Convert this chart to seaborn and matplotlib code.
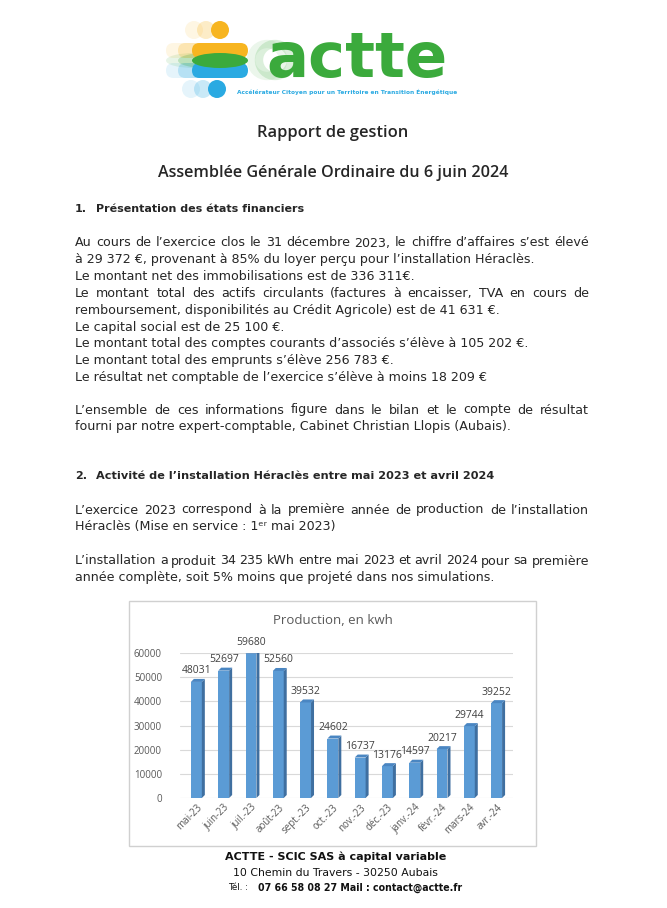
"""
Rapport de gestion ACTTE - page with the Héraclès production chart
"""
import matplotlib
matplotlib.use("Agg")
import matplotlib.pyplot as plt
from matplotlib.patches import Rectangle, Polygon, Ellipse, Circle, FancyBboxPatch
import seaborn as sns

# DATA
months = ["mai-23", "juin-23", "juil.-23", "août-23", "sept.-23", "oct.-23",
          "nov.-23", "déc.-23", "janv.-24", "févr.-24", "mars-24", "avr.-24"]
production = [48031, 52697, 59680, 52560, 39532, 24602,
              16737, 13176, 14597, 20217, 29744, 39252]
y_ticks = [0, 10000, 20000, 30000, 40000, 50000, 60000]

chart_title = "Production, en kwh"
page_title = "Rapport de gestion"
page_subtitle = "Assemblée Générale Ordinaire du 6 juin 2024"
heading1 = ("1.", "Présentation des états financiers")
heading2 = ("2.", "Activité de l’installation Héraclès entre mai 2023 et avril 2024")

# (text, justified)
para1 = [
    ("Au cours de l’exercice clos le 31 décembre 2023, le chiffre d’affaires s’est élevé", True),
    ("à 29 372 €, provenant à 85% du loyer perçu pour l’installation Héraclès.", False),
    ("Le montant net des immobilisations est de 336 311€.", False),
    ("Le montant total des actifs circulants (factures à encaisser, TVA en cours de", True),
    ("remboursement, disponibilités au Crédit Agricole) est de 41 631 €.", False),
    ("Le capital social est de 25 100 €.", False),
    ("Le montant total des comptes courants d’associés s’élève à 105 202 €.", False),
    ("Le montant total des emprunts s’élève 256 783 €.", False),
    ("Le résultat net comptable de l’exercice s’élève à moins 18 209 €", False),
]
para2 = [
    ("L’ensemble de ces informations figure dans le bilan et le compte de résultat", True),
    ("fourni par notre expert-comptable, Cabinet Christian Llopis (Aubais).", False),
]
para3 = [
    ("L’exercice 2023 correspond à la première année de production de l’installation", True),
    ("Héraclès (Mise en service : 1ᵉʳ mai 2023)", False),
]
para4 = [
    ("L’installation a produit 34 235  kWh entre mai 2023 et avril 2024 pour sa première", True),
    ("année complète, soit 5% moins que projeté dans nos simulations.", False),
]
footer = ["ACTTE - SCIC SAS à capital variable",
          "10 Chemin du Travers - 30250 Aubais",
          "Tél. :", "07 66 58 08 27 Mail : contact@actte.fr"]
logo_word = "actte"
logo_tagline = "Accélérateur Citoyen pour un Territoire en Transition Énergétique"

# STYLE
sns.set_theme(style="white")
plt.rcParams['font.family'] = ['DejaVu Sans']
W, H = 667, 908
TEXT = "#262626"
BODY_SIZE = 9.1

fig = plt.figure(figsize=(W / 100, H / 100), dpi=100)
fig.patch.set_facecolor("white")

# page overlay in pixel coordinates
page = fig.add_axes([0, 0, 1, 1])
page.set_xlim(0, W)
page.set_ylim(H, 0)
page.axis("off")

fig.canvas.draw()
renderer = fig.canvas.get_renderer()


def width_of(s, **kw):
    t = page.text(0, 0, s, **kw)
    w = t.get_window_extent(renderer).width
    t.remove()
    return w


def put_line(s, y, justify=False, x0=75, x1=589, **kw):
    kw.setdefault("fontsize", BODY_SIZE)
    kw.setdefault("color", TEXT)
    if not justify:
        page.text(x0, y, s, va="center", ha="left", **kw)
        return
    words = s.split()
    widths = [width_of(w_, **kw) for w_ in words]
    gap = (x1 - x0 - sum(widths)) / (len(words) - 1)
    x = x0
    for w_, ww in zip(words, widths):
        page.text(x, y, w_, va="center", ha="left", **kw)
        x += ww + gap


def put_para(lines, y0, step=16.8):
    for i, (s, j) in enumerate(lines):
        put_line(s, y0 + i * step, j)


# LOGO
orange, green, blue = "#F7B520", "#3BAA3C", "#2AAAE2"
for dx, a in [(-26, 0.12), (-14, 0.25), (0, 1.0)]:
    page.add_patch(Circle((220 + dx, 30), 9, color=orange, alpha=a, lw=0))
    page.add_patch(FancyBboxPatch((192 + dx, 43), 56, 15, boxstyle="round,pad=0,rounding_size=7.5",
                                  color=orange, alpha=a, lw=0))
    page.add_patch(FancyBboxPatch((192 + dx, 63), 56, 15, boxstyle="round,pad=0,rounding_size=7.5",
                                  color=blue, alpha=a, lw=0))
    page.add_patch(Ellipse((220 + dx, 60.5), 56, 15, color=green, alpha=a, lw=0))
    page.add_patch(Circle((217 + dx, 89), 9, color=blue, alpha=a, lw=0))
for dx, a in [(-16, 0.10), (-8, 0.18)]:
    page.add_patch(Circle((283 + dx, 60), 16, facecolor="none", edgecolor=green,
                          lw=6, alpha=a))
page.text(266, 77, logo_word, fontsize=45, fontweight="bold", color=green, va="baseline")
page.text(237, 92, logo_tagline, fontsize=4.2, fontweight="bold", color=blue, va="center")

# TITLES
page.text(333, 133, page_title, fontsize=11.9, fontweight="semibold", family="Open Sans",
          color=TEXT, ha="center", va="center")
page.text(333, 173, page_subtitle, fontsize=11.6, fontweight="semibold", family="Open Sans",
          color=TEXT, ha="center", va="center")

page.text(75, 209, heading1[0], fontsize=8, fontweight="bold", color=TEXT, va="center")
page.text(96, 209, heading1[1], fontsize=8, fontweight="bold", color=TEXT, va="center")
put_para(para1, 243)
put_para(para2, 410)
page.text(75, 476, heading2[0], fontsize=8, fontweight="bold", color=TEXT, va="center")
page.text(96, 476, heading2[1], fontsize=8.1, fontweight="bold", color=TEXT, va="center")
put_para(para3, 510)
put_para(para4, 561)

# CHART FRAME
page.add_patch(Rectangle((129, 601), 407, 245, facecolor="white", edgecolor="#D0D0D0", lw=1))
page.text(333, 620, chart_title, fontsize=9.5, color="#595959", ha="center", va="center",
          family="Open Sans")

# CHART
ax = fig.add_axes([180 / W, (H - 798) / H, 333 / W, 145 / H])
ax.set_facecolor("none")
sns.barplot(x=months, y=production, color="#5B9BD5", width=0.4, saturation=1,
            edgecolor="none", ax=ax, zorder=3)
ax.set_xlim(-0.6, 11.6)
ax.set_ylim(0, 60000)
ax.set_yticks(y_ticks)
ax.set_yticklabels([str(v) for v in y_ticks])
ax.yaxis.grid(True, color="#D9D9D9", lw=0.8, zorder=0)
ax.xaxis.grid(False)
for s in ax.spines.values():
    s.set_visible(False)
ax.set_xlabel("")
ax.set_ylabel("")
ax.tick_params(axis="y", length=0, pad=13, labelsize=7, labelcolor="#595959")
ax.tick_params(axis="x", length=0, pad=3, labelsize=7, labelcolor="#595959")
for lab in ax.get_yticklabels() + ax.get_xticklabels():
    lab.set_family("Open Sans")
plt.setp(ax.get_xticklabels(), rotation=45, ha="right", va="top", rotation_mode="anchor")

# pseudo 3D sides from the bars drawn by seaborn
dx = 3 / (333 / 12.2)
dy = 3 / (145 / 60000)
for p in ax.patches:
    x0, w, h = p.get_x(), p.get_width(), p.get_height()
    x1 = x0 + w
    ax.add_patch(Polygon([(x1, 0), (x1 + dx, dy), (x1 + dx, h + dy), (x1, h)],
                         closed=True, color="#3F6FA0", lw=0, zorder=3))
    ax.add_patch(Polygon([(x0, h), (x0 + dx, h + dy), (x1 + dx, h + dy), (x1, h)],
                         closed=True, color="#4A86C2", lw=0, zorder=3))

for txt in ax.bar_label(ax.containers[0], labels=[str(v) for v in production],
                        padding=4, fontsize=7.5, color="#404040"):
    txt.set_family("Open Sans")
    txt.set_clip_on(False)

# FOOTER
page.text(336, 857, footer[0], fontsize=8, fontweight="bold", color="#111111", ha="center", va="center")
page.text(335, 873, footer[1], fontsize=7.8, color="#111111", ha="center", va="center")
page.text(228, 888, footer[2], fontsize=6.3, color="#111111", ha="left", va="center")
page.text(462, 888, footer[3], fontsize=7.6, fontweight="bold", fontstretch="condensed",
          color="#111111", ha="right", va="center")

fig.savefig("out.png", dpi=100)
